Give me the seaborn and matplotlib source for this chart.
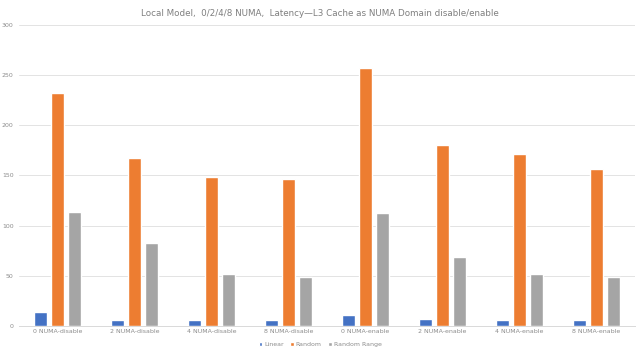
import matplotlib
matplotlib.use("Agg")
import matplotlib.pyplot as plt
import seaborn as sns
import pandas as pd

categories = ["0 NUMA-disable", "2 NUMA-disable", "4 NUMA-disable", "8 NUMA-disable",
              "0 NUMA-enable", "2 NUMA-enable", "4 NUMA-enable", "8 NUMA-enable"]
linear = [14, 6, 5.5, 5.5, 10.5, 6.5, 5.5, 5.5]
random_ = [232, 167, 148, 146, 257, 180, 171, 156]
random_range = [114, 83, 52, 48.5, 112.5, 69, 52, 48.5]
series_names = ["Linear", "Random", "Random Range"]
yticks = [0, 50, 100, 150, 200, 250, 300]

rows = []
for name, vals in zip(series_names, [linear, random_, random_range]):
    for c, v in zip(categories, vals):
        rows.append({"cat": c, "series": name, "value": v})
df = pd.DataFrame(rows)

sns.set_style("white")
plt.rcParams['font.family'] = ['DejaVu Sans']

fig = plt.figure(figsize=(6.4, 3.55), dpi=100)
ax = fig.add_axes([0.03, 0.0817, 0.962, 0.848])

palette = {"Linear": "#4472C4", "Random": "#ED7D31", "Random Range": "#A5A5A5"}
sns.barplot(data=df, x="cat", y="value", hue="series", order=categories,
            hue_order=series_names, palette=palette, width=0.66, gap=0.22,
            saturation=1, ax=ax, legend=True)

ax.set_ylim(0, 300)
ax.set_yticks(yticks)
ax.set_xlim(-0.5, len(categories) - 0.5)
ax.yaxis.grid(True, color="#E3E3E3", linewidth=0.7)
ax.set_axisbelow(True)
for s in ["top", "right", "left"]:
    ax.spines[s].set_visible(False)
ax.spines["bottom"].set_color("#D9D9D9")
ax.spines["bottom"].set_linewidth(0.7)
ax.tick_params(axis="both", length=0, labelsize=4.5, labelcolor="#8C8C8C", pad=2)
ax.tick_params(axis="y", pad=4)
ax.set_xlabel("")
ax.set_ylabel("")

handles, labels = ax.get_legend_handles_labels()
ax.legend_.remove()
fig.legend(handles, labels, loc="center", bbox_to_anchor=(0.5, 0.03), ncol=3,
           frameon=False, fontsize=4.5, labelcolor="#8C8C8C", handlelength=0.6,
           handleheight=0.6, handletextpad=0.3, columnspacing=1.0)

fig.text(0.5, 0.963, "Local Model,  0/2/4/8 NUMA,  Latency\u2014L3 Cache as NUMA Domain disable/enable",
         ha="center", va="center", fontsize=6.3, color="#7F7F7F")

fig.savefig("out.png", dpi=100)
